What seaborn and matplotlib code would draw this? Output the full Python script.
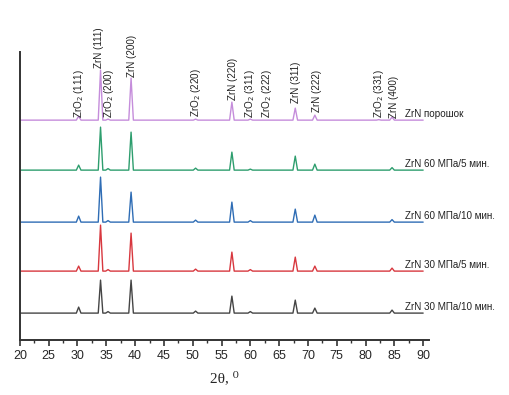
import numpy as np
import pandas as pd
import matplotlib
matplotlib.use("Agg")
import matplotlib.pyplot as plt
import seaborn as sns

# peak positions (2theta, deg) and peak heights per sample
peak_pos = [30.2, 34.0, 35.3, 39.3, 50.5, 56.8, 60.0, 62.8, 67.8, 71.2, 82.3, 84.6]
samples = ["ZrN 30 МПа/10 мин.", "ZrN 30 МПа/5 мин.", "ZrN 60 МПа/10 мин.",
           "ZrN 60 МПа/5 мин.", "ZrN порошок"]
offsets = [27, 69, 118, 170, 220]
h_30_10 = [6, 33, 1.5, 33, 2, 17, 1.5, 0, 13, 5, 0, 3]
h_30_5 = [5, 46, 1.5, 38, 2, 19, 1.5, 0, 14, 5, 0, 3]
h_60_10 = [6, 45, 1.5, 30, 2, 20, 1.5, 0, 13, 7, 0, 2.5]
h_60_5 = [5, 43, 1.5, 38, 2, 18, 1, 0, 14, 6, 0, 2.5]
h_powder = [4, 50, 1, 42, 1, 18, 1, 0, 12, 5, 0.5, 3]
heights = [h_30_10, h_30_5, h_60_10, h_60_5, h_powder]
colors = ["#454545", "#d8383f", "#2f6db5", "#2e9e6e", "#c58ddb"]

# peak labels: text, x position, bottom of text (same units as offsets)
lab_text = ["ZrO$_2$ (111)", "ZrN (111)", "ZrO$_2$ (200)", "ZrN (200)", "ZrO$_2$ (220)",
            "ZrN (220)", "ZrO$_2$ (311)", "ZrO$_2$ (222)", "ZrN (311)", "ZrN (222)",
            "ZrO$_2$ (331)", "ZrN (400)"]
lab_x = [30.2, 33.8, 35.4, 39.4, 50.6, 57.0, 60.0, 62.9, 68.0, 71.5, 82.4, 85.0]
lab_y = [222, 272, 222, 263, 223, 240, 222, 222, 237, 228, 222, 222]

half_w = 0.4
rows = []
for name, off, hs in zip(samples, offsets, heights):
    rows.append((name, 20.0, off))
    for p, h in zip(peak_pos, hs):
        rows.append((name, p - half_w, off))
        rows.append((name, p, off + h))
        rows.append((name, p + half_w, off))
    rows.append((name, 90.0, off))
df = pd.DataFrame(rows, columns=["sample", "two_theta", "intensity"])

sns.set_style("white")
plt.rcParams["font.family"] = ["Liberation Sans", "DejaVu Sans"]

fig = plt.figure(figsize=(5.1, 3.95), dpi=100)
ax = fig.add_axes([0.039, 0.139, 0.802, 0.729])

for name, c, off in zip(samples, colors, offsets):
    sns.lineplot(data=df[df["sample"] == name], x="two_theta", y="intensity",
                 sort=False, color=c, lw=1.0, ax=ax, estimator=None)
    ax.text(86.8, off + 1.5, name, fontsize=7.1, color="#222222",
            ha="left", va="bottom", clip_on=False)

for t, x, y in zip(lab_text, lab_x, lab_y):
    ax.text(x, y, t, rotation=90, fontsize=7.1, ha="center", va="bottom",
            color="#222222")

ax.set_xlim(20, 91)
ax.set_ylim(0, 288)
ax.set_xticks(range(20, 91, 5))
ax.set_xticks(np.arange(22.5, 90, 5), minor=True)
ax.set_yticks([])
ax.tick_params(axis="x", which="major", direction="out", length=4, width=1.2,
               labelsize=9, color="#333333", pad=3, bottom=True)
ax.tick_params(axis="x", which="minor", direction="out", length=2.5, width=1,
               color="#333333", bottom=True)
for s in ["top", "right"]:
    ax.spines[s].set_visible(False)
for s in ["left", "bottom"]:
    ax.spines[s].set_color("#333333")
    ax.spines[s].set_linewidth(1.4)
ax.set_xlabel("2θ, ⁰", fontsize=11, family=["Liberation Serif", "DejaVu Serif"],
              labelpad=7)
ax.set_ylabel("")

fig.savefig("out.png", dpi=100)
